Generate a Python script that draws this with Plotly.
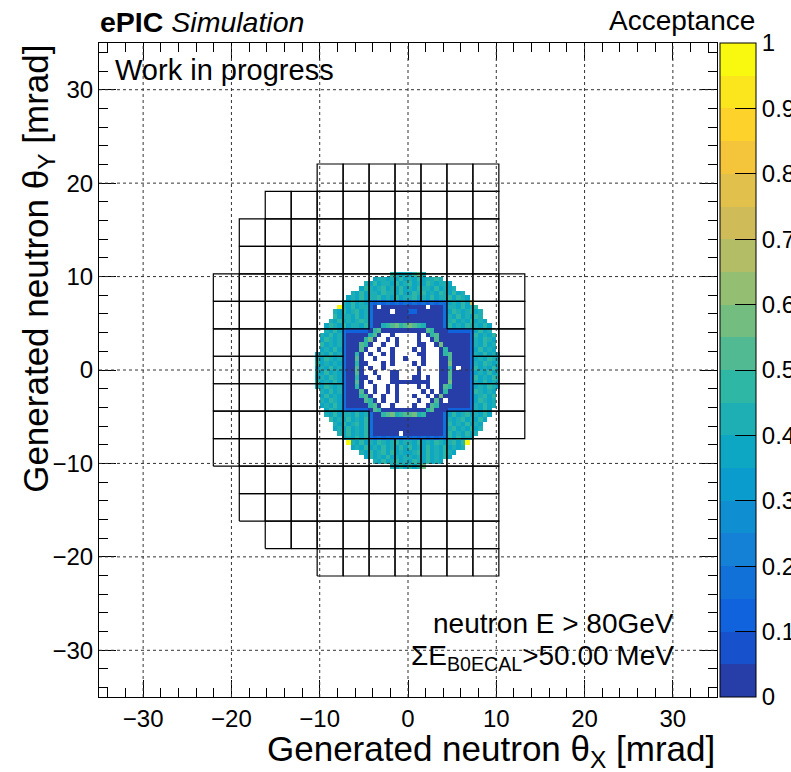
import numpy as np
import plotly.graph_objects as go

FONT = "Liberation Sans"

# ---------------------------------------------------------------------------
# Acceptance map: 0.5 mrad bins, x from -11 to 11 mrad, rows from +11 (top)
# down to -11 mrad.  Each character is one bin: '.' = empty bin, otherwise the
# index of the 0.05-wide acceptance band the bin falls in ("0" = 0-0.05 ...
# "J" = 0.95-1).  Rows are stored without their leading/trailing empty bins.
# ---------------------------------------------------------------------------
BIN_W = 0.5
X_FIRST_EDGE = -11.0
Y_TOP_EDGE = 11.0
N_COLS = 44
LEVEL_CODES = "0123456789ABCDEFGHIJ"
HEAT_ROWS = [
    "",
    "987879B8",
    "7887879787978898",
    "87978879789787987887",
    "7987897879787988797878",
    "87978879887977989787987978",
    "7879788978797889787978897987",
    "879787323232323" + "23232323378797E",
    "J87978830.000000" + "0000.00038879789",
    "8797897830000.000" + "22000000379878978",
    "97887978300000000" + "00000000387978798",
    "879787898300000000" + "000000003897879787",
    "7987978879300" "89AB9A" + "BA98" "000039787988797",
    "87973222220" "9A000000" + "0000A9000" "2222237978",
    "879783000008A0..0..." + "..0.09A0000000397879",
    "79878300009B0..0.0.." + "..0..0A0000000387987",
    "978783000A90..0..0.." + "..00..0B000000387978",
    "787973000A0..0..0..." + ".0.0...0900000379787",
    "78797830090.0..0.0..." + "..00...09A00003879787",
    "879878300A0..0...0..0" + "...0...00A00003787987",
    "978787300900...0.0..." + ".0.0...00B00003879878",
    "787978300A0.0..0....." + "..0....0090.003978797",
    "879787300A0..0...00.." + "..0....00A00003787978",
    "787987300900..0..00.." + ".00.0..00A00003978798",
    "978797300A0.0....0000" + "00000..00B00003879787",
    "87987830090..0..0.0.." + "..0.0..0A900003787987",
    "879783000A0.0..0.0.." + "...0.0.0900000398787",
    "7978730009A0..0..0.." + ".0..0.0B000000378979",
    "8798730000A90.0..0.." + "..0..0A0.00000379878",
    "787973000009A0..0..." + ".0..0A90000000387978",
    "79873222220A9000000" + "00009A0002222238797",
    "87978879783009AB89A" + "AB89000037978978797",
    "978797879300000000" + "000000003878978797",
    "87978979300000000" + "00000000397879787",
    "78797879300000000" + "00000000389787978",
    "87978793000000.0" + "0000000039787978",
    "787979323232323" + "232323233979787",
    "J8797879878978" + "8797879878979J",
    "7879787978797" + "9787978797878",
    "87978979787" + "78979787987",
    "7978797878" + "8787978797",
    "87978978" + "79879787",
    "8797" + "979B",
    "",
]

# kBird palette (ROOT), 20 contour bands between 0 and 1
BIRD_STOPS = [0.0000, 0.1250, 0.2500, 0.3750, 0.5000, 0.6250, 0.7500, 0.8750, 1.0000]
BIRD_R = [0.2082, 0.0592, 0.0780, 0.0232, 0.1802, 0.5301, 0.8186, 0.9956, 0.9764]
BIRD_G = [0.1664, 0.3599, 0.5041, 0.6419, 0.7178, 0.7492, 0.7328, 0.7862, 0.9832]
BIRD_B = [0.5293, 0.8684, 0.8385, 0.7914, 0.6425, 0.4662, 0.3499, 0.1968, 0.0539]
N_PALETTE = 255

# B0 ECAL crystal layout: crystal pitch (mrad), rows (j) with first/last column (i)
CELL = 2.94
CRYSTAL_ROW_J = [7, 6, 5, 4, 3, 2, 1, 0, -1, -2, -3, -4, -5, -6, -7]
CRYSTAL_I_MIN = [-3, -5, -6, -6, -7, -7, -7, -7, -7, -7, -7, -6, -6, -5, -3]
CRYSTAL_I_MAX = [3, 3, 3, 3, 4, 4, 4, 4, 4, 4, 3, 3, 3, 3, 3]

# axes
AXIS_RANGE = [-35, 35]
MAJOR_TICKS = [-30, -20, -10, 0, 10, 20, 30]
CB_TICKS = [0, 0.1, 0.2, 0.3, 0.4, 0.5, 0.6, 0.7, 0.8, 0.9, 1.0]
CB_LABELS = ["0", "0.1", "0.2", "0.3", "0.4", "0.5", "0.6", "0.7", "0.8", "0.9", "1"]


def bird(p):
    r = np.interp(p, BIRD_STOPS, BIRD_R)
    g = np.interp(p, BIRD_STOPS, BIRD_G)
    b = np.interp(p, BIRD_STOPS, BIRD_B)
    return "rgb(%d,%d,%d)" % (round(r * 255), round(g * 255), round(b * 255))


# decode the map
n_levels = len(LEVEL_CODES)
z = []
for row in HEAT_ROWS:
    assert len(row) <= N_COLS
    full = row.center(N_COLS, ".")
    z.append([np.nan if ch == "." else (LEVEL_CODES.index(ch) + 0.5) / n_levels for ch in full])
z = np.array(z, dtype=float)
x_centers = X_FIRST_EDGE + BIN_W * (np.arange(N_COLS) + 0.5)
y_centers = Y_TOP_EDGE - BIN_W * (np.arange(len(HEAT_ROWS)) + 0.5)

# stepped colour scale, one colour per contour band
colorscale = []
for k in range(n_levels):
    idx = int((k + 0.99) * N_PALETTE / n_levels)
    col = bird(idx / N_PALETTE)
    colorscale.append([k / n_levels, col])
    colorscale.append([(k + 1) / n_levels, col])

heat = go.Heatmap(
    z=z, x=x_centers, y=y_centers,
    zmin=0, zmax=1, colorscale=colorscale, zsmooth=False,
    hoverongaps=False,
    colorbar=dict(
        x=1.005, xanchor="left", xpad=0, ypad=0,
        y=0.5, yanchor="middle", len=1, lenmode="fraction",
        thickness=36, thicknessmode="pixels",
        outlinewidth=1, outlinecolor="black",
        tickmode="array", tickvals=CB_TICKS, ticktext=CB_LABELS,
        ticks="inside", ticklen=21, tickwidth=1, tickcolor="black",
        tickfont=dict(family=FONT, size=24, color="black"),
    ),
)

# crystal outlines
cx, cy = [], []
for j, i0, i1 in zip(CRYSTAL_ROW_J, CRYSTAL_I_MIN, CRYSTAL_I_MAX):
    for i in range(i0, i1 + 1):
        in_hole = (abs(i) <= 2 and abs(j) <= 1) or (abs(i) <= 1 and abs(j) <= 2)
        if in_hole:
            continue
        xa, xb = (i - 0.5) * CELL, (i + 0.5) * CELL
        ya, yb = (j - 0.5) * CELL, (j + 0.5) * CELL
        cx += [xa, xb, xb, xa, xa, None]
        cy += [ya, ya, yb, yb, ya, None]
crystals = go.Scatter(x=cx, y=cy, mode="lines", line=dict(color="black", width=1.2),
                      hoverinfo="skip", showlegend=False)

fig = go.Figure([heat, crystals])

# dotted grid on top of the map
shapes = []
for t in MAJOR_TICKS:
    shapes.append(dict(type="line", xref="x", yref="y", x0=t, x1=t, y0=AXIS_RANGE[0], y1=AXIS_RANGE[1],
                       layer="above", line=dict(color="#333", width=1, dash="dot")))
    shapes.append(dict(type="line", xref="x", yref="y", y0=t, y1=t, x0=AXIS_RANGE[0], x1=AXIS_RANGE[1],
                       layer="above", line=dict(color="#333", width=1, dash="dot")))

axis_common = dict(
    range=AXIS_RANGE, tickmode="linear", tick0=0, dtick=10,
    ticks="inside", ticklen=17, tickwidth=1, tickcolor="black",
    minor=dict(dtick=2, tick0=0, ticks="inside", ticklen=9, tickwidth=1, tickcolor="black", showgrid=False),
    showline=True, linecolor="black", linewidth=1, mirror="ticks",
    showgrid=False, zeroline=False, fixedrange=True, automargin=False,
    tickfont=dict(family=FONT, size=24, color="black"),
)

annotations = [
    dict(text="<b>ePIC</b> <i>Simulation</i>", xref="paper", yref="paper", x=-0.002, y=1.032,
         xanchor="left", yanchor="middle", showarrow=False, font=dict(family=FONT, size=28.5, color="black")),
    dict(text="Work in progress", xref="paper", yref="paper", x=0.022, y=0.9587,
         xanchor="left", yanchor="middle", showarrow=False, font=dict(family=FONT, size=29, color="black")),
    dict(text="neutron E &gt; 80GeV", xref="paper", yref="paper", x=0.934, y=0.113,
         xanchor="right", yanchor="middle", showarrow=False, font=dict(family=FONT, size=28, color="black")),
    dict(text="ΣE<sub>B0ECAL</sub>&gt;50.00 MeV", xref="paper", yref="paper", x=0.934, y=0.060,
         xanchor="right", yanchor="middle", showarrow=False, font=dict(family=FONT, size=28, color="black")),
    dict(text="Acceptance", xref="paper", yref="paper", x=1.064, y=1.035,
         xanchor="right", yanchor="middle", showarrow=False, font=dict(family=FONT, size=28, color="black")),
    dict(text="Generated neutron θ<sub>X</sub> [mrad]", xref="paper", yref="paper", x=1.0, y=-0.046,
         xanchor="right", yanchor="top", showarrow=False, font=dict(family=FONT, size=35, color="black")),
    dict(text="Generated neutron θ<sub>Y</sub> [mrad]", xref="paper", yref="paper", x=-0.099, y=1.0,
         xanchor="center", yanchor="top", textangle=-90, showarrow=False,
         font=dict(family=FONT, size=35, color="black")),
]

fig.update_layout(
    width=791, height=772,
    margin=dict(l=99, r=74, t=43, b=75, autoexpand=False),
    paper_bgcolor="white", plot_bgcolor="white",
    xaxis=axis_common, yaxis=axis_common,
    shapes=shapes, annotations=annotations, showlegend=False,
)

fig.write_html("out.html")
